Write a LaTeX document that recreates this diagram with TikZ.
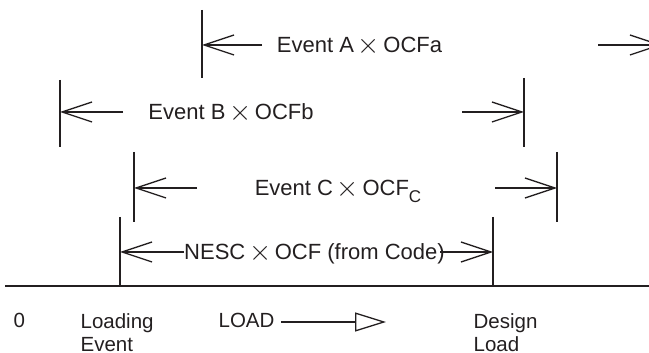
\documentclass[tikz,border=0pt]{standalone}
\usepackage{fontspec}
\setmainfont{Liberation Sans}
\usetikzlibrary{arrows.meta}
\definecolor{ink}{HTML}{231F20}
\newcommand{\bytimes}{\,\raisebox{-0.4pt}{\scalebox{1.3}{$\times$}}\,}

\begin{document}
\begin{tikzpicture}[x=0.5pt, y=-0.5pt, line width=0.65pt, draw=ink,
    barb/.style={-{Straight Barb[length=15pt, width=10pt]}},
    evtext/.style={font=\fontsize{11}{13}\selectfont, text=ink, inner sep=0pt, anchor=base},
    axistext/.style={font=\fontsize{10.25}{11.5}\selectfont, text=ink, inner sep=0pt,
                     align=left, anchor=north west}]
    \path[use as bounding box, clip] (0,0) rectangle (649,353);

    % load axis
    \coordinate (base0) at (5,286);
    \coordinate (base1) at (649,286);
    \draw (base0) -- (base1);
    \node[axistext] (zero) at (13,313) {0};
    \node[axistext] (loading) at (80,313) {Loading\\Event};
    \node[axistext] (load) at (218,313) {LOAD};
    \coordinate (loadtip) at (386,322);
    \draw[-{Triangle[open, length=15.5pt, width=9.5pt]}] (load.east |- loadtip) ++(6,0) -- (loadtip);
    \node[axistext] (design) at (473,313) {Design\\Load};

    % Event A
    \coordinate (aL) at (202,45);
    \coordinate (aR) at (662,45);
    \draw (aL) ++(0,-35) -- ++(0,68);
    \node[evtext] (atext) at (359.5,53) {Event A\bytimes OCFa};
    \draw[barb] (262,45) -- (aL);
    \draw[barb] (598,45) -- (aR);

    % Event B
    \coordinate (bL) at (60,112);
    \coordinate (bR) at (524,112);
    \draw (bL) ++(0,-32) -- ++(0,67);
    \draw (bR) ++(0,-34) -- ++(0,69);
    \node[evtext] (btext) at (231,120) {Event B\bytimes OCFb};
    \draw[barb] (123,112) -- (bL);
    \draw[barb] (462,112) -- (bR);

    % Event C
    \coordinate (cL) at (134,188);
    \coordinate (cR) at (557,188);
    \draw (cL) ++(0,-36) -- ++(0,70);
    \draw (cR) ++(0,-36) -- ++(0,70);
    \node[evtext] (ctext) at (338,196)
        {Event C\bytimes OCF\raisebox{-3.5pt}{\fontsize{8.5}{10}\selectfont C}};
    \draw[barb] (197,188) -- (cL);
    \draw[barb] (495,188) -- (cR);

    % NESC from code
    \coordinate (nL) at (120,252);
    \coordinate (nR) at (493,252);
    \draw (nL) ++(0,-35) -- (nL |- base0);
    \draw (nR) ++(0,-35) -- (nR |- base0);
    \node[evtext] (ntext) at (314.5,260) {NESC\bytimes OCF (from Code)};
    \draw[barb] (ntext.west |- nL) -- (nL);
    \draw[barb] (ntext.east |- nR) ++(-5,0) -- (nR);
\end{tikzpicture}
\end{document}
